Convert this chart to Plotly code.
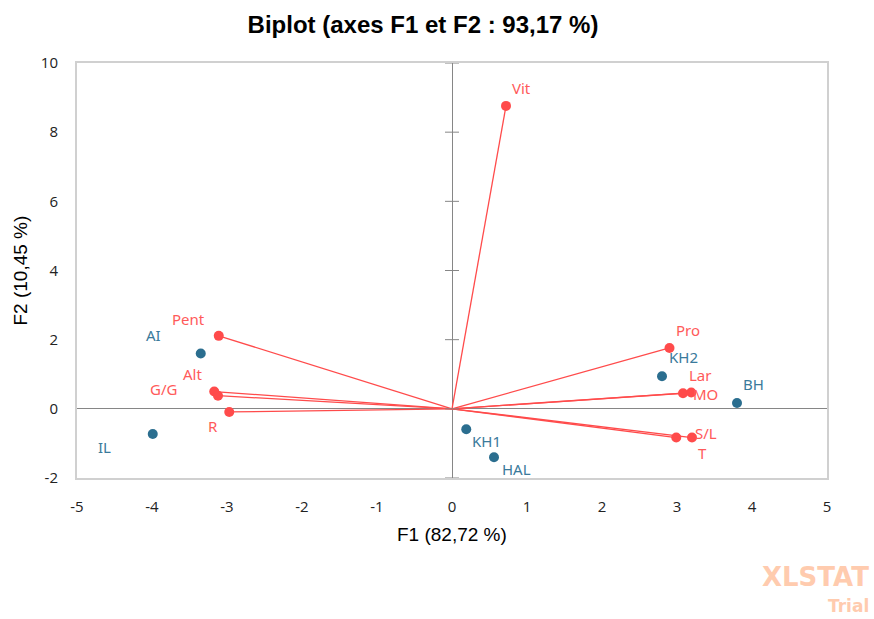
import plotly.graph_objects as go

# Variables (active columns) projected on F1/F2
var_names = ["Vit", "Pent", "Alt", "G/G", "R", "Pro", "Lar", "MO", "S/L", "T"]
var_f1 = [0.72, -3.11, -3.17, -3.12, -2.97, 2.90, 3.08, 3.19, 3.20, 2.99]
var_f2 = [8.76, 2.11, 0.50, 0.38, -0.09, 1.76, 0.45, 0.47, -0.83, -0.83]

# Observations
obs_names = ["AI", "IL", "KH2", "BH", "KH1", "HAL"]
obs_f1 = [-3.35, -3.99, 2.80, 3.80, 0.19, 0.56]
obs_f2 = [1.60, -0.73, 0.94, 0.17, -0.59, -1.40]

x_ticks = [-5, -4, -3, -2, -1, 0, 1, 2, 3, 4, 5]
y_ticks = [-2, 0, 2, 4, 6, 8, 10]

RED = "#FF4B4B"
RED_TXT = "#FF5A5A"
BLUE = "#2B6E8F"
BLUE_TXT = "#3A7A9B"
LABEL_FONT = "Noto Sans"

# label offsets in pixels (dx right, dy up)
var_offsets = {
    "Vit": (15, 18), "Pent": (-30, 17), "Alt": (-22, 18), "G/G": (-55, 7),
    "R": (-16, -14), "Pro": (18, 18), "Lar": (17, 18), "MO": (14, -1),
    "S/L": (14, 5), "T": (26, -15),
}
obs_offsets = {
    "AI": (-47, 19), "IL": (-48, -13), "KH2": (21, 19), "BH": (16, 19),
    "KH1": (20, -12), "HAL": (22, -12),
}

fig = go.Figure()

# vectors from the origin to each variable
lx, ly = [], []
for x, y in zip(var_f1, var_f2):
    lx += [0, x, None]
    ly += [0, y, None]
fig.add_trace(go.Scatter(x=lx, y=ly, mode="lines",
                         line=dict(color=RED, width=1.3), hoverinfo="skip"))

# tick marks crossing the vertical zero line
fig.add_trace(go.Scatter(x=[0] * len(y_ticks), y=y_ticks, mode="markers",
                         marker=dict(symbol="line-ew", size=10,
                                     line=dict(color="#868686", width=1)),
                         hoverinfo="skip"))

fig.add_trace(go.Scatter(x=obs_f1, y=obs_f2, mode="markers",
                         marker=dict(color=BLUE, size=10), text=obs_names))
fig.add_trace(go.Scatter(x=var_f1, y=var_f2, mode="markers",
                         marker=dict(color=RED, size=10), text=var_names))

annotations = []
for n, x, y in zip(var_names, var_f1, var_f2):
    dx, dy = var_offsets[n]
    annotations.append(dict(x=x, y=y, text=n, showarrow=False, xshift=dx, yshift=dy,
                            font=dict(family=LABEL_FONT, size=15, color=RED_TXT)))
for n, x, y in zip(obs_names, obs_f1, obs_f2):
    dx, dy = obs_offsets[n]
    annotations.append(dict(x=x, y=y, text=n, showarrow=False, xshift=dx, yshift=dy,
                            font=dict(family=LABEL_FONT, size=15, color=BLUE_TXT)))

# axis titles
annotations.append(dict(xref="paper", yref="paper", x=0.5, y=-0.137, text="F1 (82,72 %)",
                        showarrow=False, xanchor="center", yanchor="middle",
                        font=dict(family="Liberation Sans", size=19, color="#000")))
annotations.append(dict(xref="paper", yref="paper", x=-0.076, y=0.5, text="F2 (10,45 %)",
                        showarrow=False, textangle=-90, xanchor="center", yanchor="middle",
                        font=dict(family="Liberation Sans", size=19, color="#000")))

# watermark
annotations.append(dict(xref="paper", yref="paper", x=(870 - 77) / 750, y=(478 - 577) / 415,
                        text="<b>XLSTAT</b>", showarrow=False, xanchor="right", yanchor="middle",
                        borderpad=0,
                        font=dict(family="DejaVu Sans", size=26, color="#FFCBAE")))
annotations.append(dict(xref="paper", yref="paper", x=(870 - 77) / 750, y=(478 - 606) / 415,
                        text="<b>Trial</b>", showarrow=False, xanchor="right", yanchor="middle",
                        borderpad=0,
                        font=dict(family="DejaVu Sans", size=17, color="#FFCBAE")))

tick_font = dict(family="Open Sans", size=15, color="#222")

fig.update_layout(
    width=874, height=619,
    margin=dict(l=77, r=47, t=63, b=141),
    paper_bgcolor="white", plot_bgcolor="white",
    showlegend=False,
    title=dict(text="<b>Biplot (axes F1 et F2 : 93,17 %)</b>", x=423 / 874, xanchor="center",
               y=1 - 25 / 619, yanchor="middle",
               font=dict(family="Liberation Sans", size=24, color="#000")),
    annotations=annotations,
)
fig.update_xaxes(range=[-5, 5], tickvals=x_ticks, ticktext=[str(v) for v in x_ticks],
                 showgrid=False,
                 zeroline=True, zerolinecolor="#868686", zerolinewidth=1,
                 showline=True, mirror=True, linecolor="#D0D0D0", linewidth=2,
                 ticks="", ticklabelstandoff=14, tickfont=tick_font)
fig.update_yaxes(range=[-2, 10], tickvals=y_ticks, ticktext=[str(v) for v in y_ticks],
                 showgrid=False,
                 zeroline=True, zerolinecolor="#868686", zerolinewidth=1,
                 showline=True, mirror=True, linecolor="#D0D0D0", linewidth=2,
                 ticks="", ticklabelstandoff=14, tickfont=tick_font)

fig.write_html("out.html")
